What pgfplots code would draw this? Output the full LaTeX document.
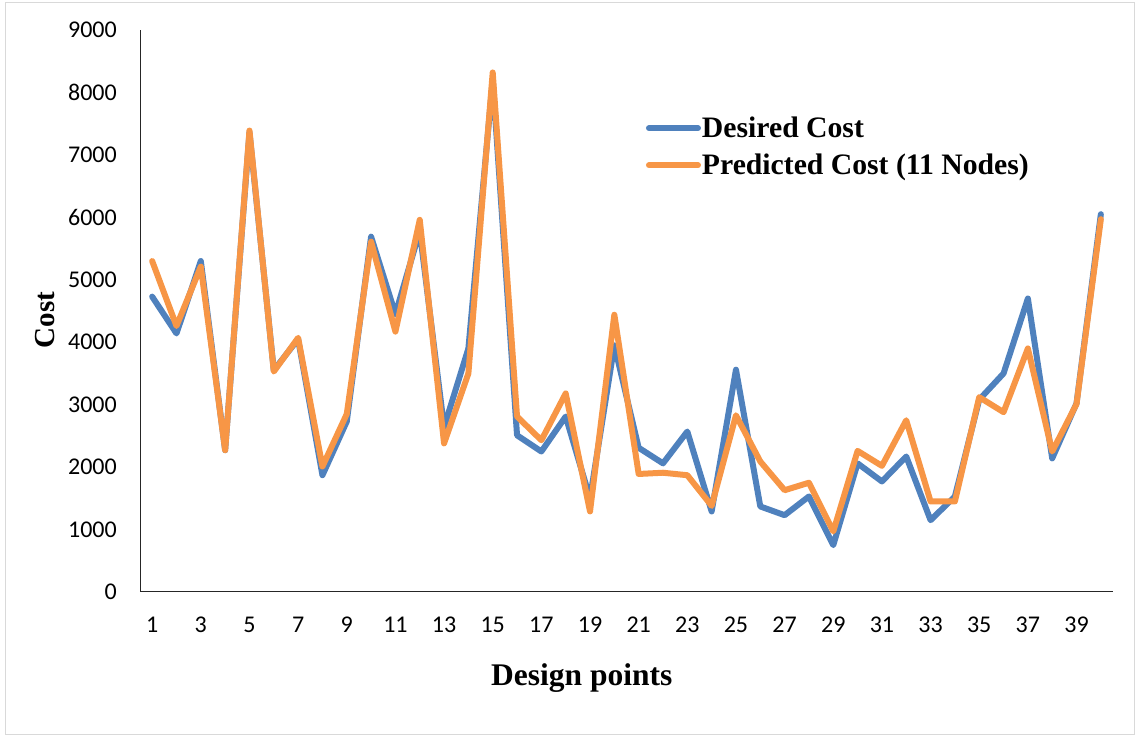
\documentclass[border=0pt]{standalone}
\usepackage{fontspec}
\setmainfont{Liberation Serif}
\newfontfamily\carlito{Carlito}
\usepackage{pgfplots}
\pgfplotsset{compat=1.18}
\definecolor{dblue}{HTML}{4F81BD}
\definecolor{porange}{HTML}{F79646}

\pgfplotstableread{
x y
1 4730
2 4140
3 5300
4 2270
5 7360
6 3550
7 4050
8 1870
9 2730
10 5690
11 4450
12 5780
13 2640
14 3900
15 8200
16 2510
17 2250
18 2810
19 1500
20 3950
21 2310
22 2060
23 2570
24 1290
25 3560
26 1370
27 1230
28 1530
29 750
30 2060
31 1770
32 2170
33 1150
34 1530
35 3080
36 3500
37 4700
38 2140
39 3020
40 6050
}\desired

\pgfplotstableread{
x y
1 5300
2 4260
3 5210
4 2270
5 7390
6 3530
7 4070
8 2010
9 2850
10 5610
11 4170
12 5960
13 2380
14 3500
15 8320
16 2810
17 2430
18 3180
19 1290
20 4440
21 1890
22 1910
23 1870
24 1380
25 2830
26 2090
27 1630
28 1750
29 970
30 2260
31 2020
32 2750
33 1450
34 1450
35 3120
36 2880
37 3900
38 2250
39 3010
40 5970
}\predicted

\begin{document}
\begin{tikzpicture}
\useasboundingbox (0,0) rectangle (1135bp,735bp);
\draw[black!15, line width=1bp] (5bp,1bp) rectangle (1134bp,732bp);
\begin{axis}[
  at={(140bp,143bp)}, anchor=south west,
  scale only axis, width=973bp, height=562bp,
  xmin=0.5, xmax=40.5, ymin=0, ymax=9000,
  axis x line=bottom, axis y line=left,
  axis line style={-, black!85, line width=1bp},
  xtick={1,3,...,39},
  ytick={0,1000,...,9000},
  major tick length=0pt,
  tick label style={font=\carlito\fontsize{24bp}{28bp}\selectfont, inner sep=0pt},
  /pgf/number format/assume math mode=true,
  /pgf/number format/1000 sep={},
  scaled y ticks=false,
  yticklabel style={anchor=east, xshift=-23bp},
  xticklabel style={anchor=north, yshift=-24.5bp},
  xlabel={Design points}, ylabel={Cost},
  xlabel style={font=\bfseries\fontsize{31.5bp}{38bp}\selectfont, at={(axis description cs:0.454,-0.153)}, anchor=center},
  ylabel style={font=\bfseries\fontsize{29bp}{34bp}\selectfont, at={(axis description cs:-0.0976,0.484)}, anchor=center},
  legend style={at={(axis description cs:0.52,0.845)}, anchor=north west, draw=none, fill=none, inner sep=0pt, outer sep=0pt, row sep=15bp, column sep=1bp, font=\bfseries\fontsize{29.7bp}{35bp}\selectfont, nodes={inner sep=0pt}},
  legend cell align=left,
  legend image code/.code={\draw[#1, line width=6bp, line cap=round] (0bp,0bp) -- (49bp,0bp);},
]
\addplot[dblue, line width=6bp, line join=round, line cap=round] table[x=x,y=y] {\desired};
\addlegendentry{\rule[-6bp]{0pt}{26bp}Desired Cost}
\addplot[porange, line width=6bp, line join=round, line cap=round] table[x=x,y=y] {\predicted};
\addlegendentry{\rule[-6bp]{0pt}{26bp}Predicted Cost (11 Nodes)}
\end{axis}
\end{tikzpicture}
\end{document}
